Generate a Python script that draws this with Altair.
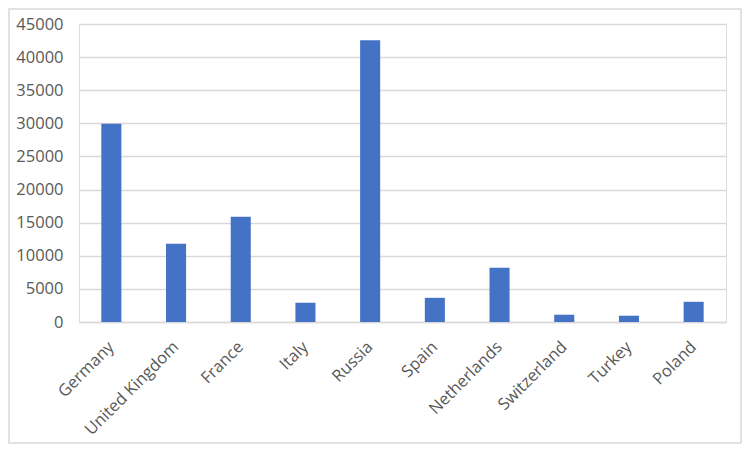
import altair as alt
import pandas as pd

countries = ["Germany", "United Kingdom", "France", "Italy", "Russia",
             "Spain", "Netherlands", "Switzerland", "Turkey", "Poland"]
values = [29950, 11800, 15900, 2900, 42550, 3650, 8180, 1100, 950, 3050]
y_ticks = list(range(0, 45001, 5000))

df = pd.DataFrame({"country": countries, "value": values})

W, H = 647, 298
PAD = {"left": 71, "top": 16, "right": 16, "bottom": 122}
FONT = "Open Sans"
LABEL_COLOR = "#595959"
GRID = "#d9d9d9"

bars = alt.Chart(df).mark_bar(color="#4472c4").encode(
    x=alt.X("country:N", sort=countries,
            scale=alt.Scale(paddingInner=0.69, paddingOuter=0.345),
            axis=alt.Axis(title=None, labelAngle=-45, labelAlign="right",
                          labelBaseline="middle", labelPadding=22,
                          ticks=False, domainColor=GRID, domainWidth=1.3,
                          labelFont=FONT, labelFontSize=16.5,
                          labelColor=LABEL_COLOR)),
    y=alt.Y("value:Q", scale=alt.Scale(domain=[0, 45000], nice=False),
            axis=alt.Axis(title=None, values=y_ticks, format="d", ticks=False,
                          domain=False, grid=True, gridColor=GRID,
                          gridWidth=1.3, labelFont=FONT, labelFontSize=16.5,
                          labelPadding=16, labelColor=LABEL_COLOR)),
)

border = alt.Chart(pd.DataFrame({"b": [0]})).mark_rect(
    fill=None, stroke=GRID, strokeWidth=1.5
).encode(
    x=alt.value(-PAD["left"] + 1),
    x2=alt.value(W + PAD["right"] - 1),
    y=alt.value(-PAD["top"] + 1),
    y2=alt.value(H + PAD["bottom"] - 1),
)

chart = alt.layer(bars, border).properties(
    width=W, height=H,
    padding=PAD,
    autosize=alt.AutoSizeParams(type="none"),
).configure_view(stroke=None).configure(background="white")

chart.save("out.html", embed_options={"renderer": "svg", "actions": False})
